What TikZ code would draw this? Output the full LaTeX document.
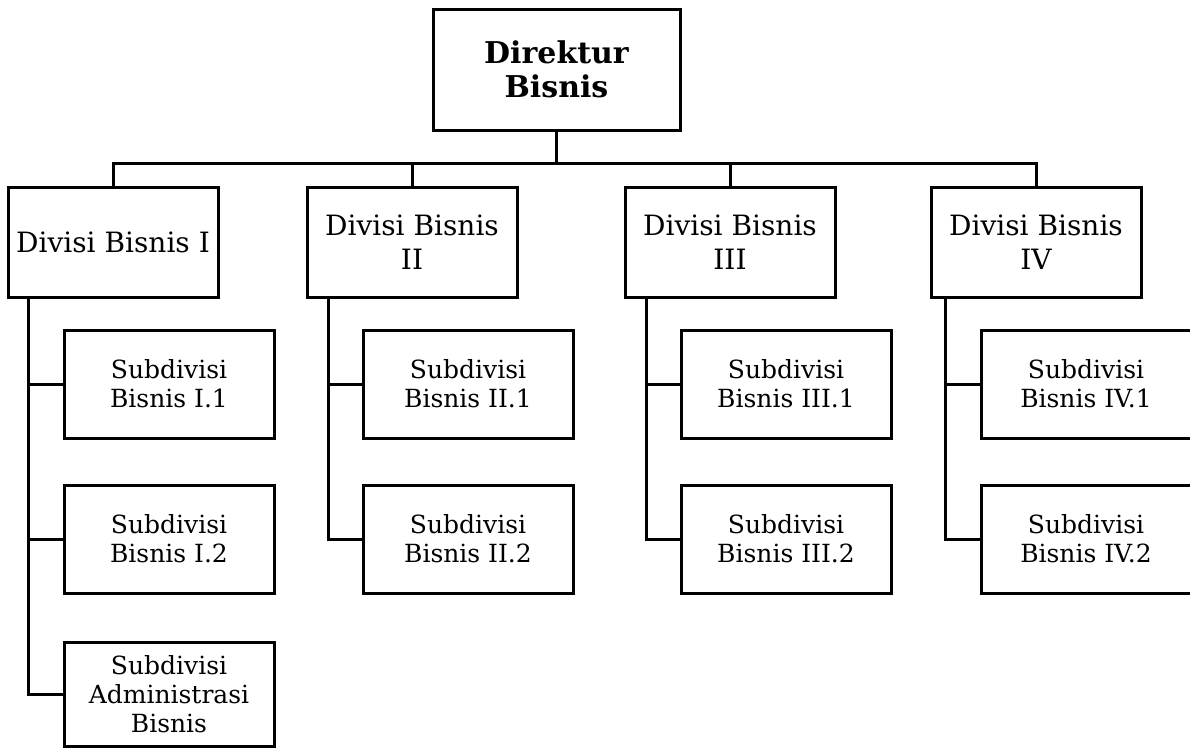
\documentclass[tikz,border=0pt]{standalone}
\usepackage{fontspec}
\setmainfont{DejaVu Serif}
\usetikzlibrary{calc}
\tikzset{
  box/.style={draw, line width=3pt, rectangle, align=center, inner sep=2pt},
  topbox/.style={box, minimum width=247pt, minimum height=121pt, font=\fontsize{30}{34}\selectfont\bfseries},
  divbox/.style={box, minimum width=210pt, minimum height=110pt, font=\fontsize{28}{34}\selectfont},
  subbox/.style={box, minimum width=210pt, minimum height=108pt, font=\fontsize{25}{29}\selectfont},
  link/.style={line width=3pt}
}
\begin{document}
\begin{tikzpicture}[x=1pt,y=-1pt]
\useasboundingbox (0,0) rectangle (1190,750);
% top level
\node[topbox] (dir) at (556.5,69.5) {Direktur\\Bisnis};
% divisions
\node[divbox] (d1) at (113,242) {Divisi Bisnis I};
\node[divbox] (d2) at (412,242) {Divisi Bisnis\\II};
\node[divbox] (d3) at (730,242) {Divisi Bisnis\\III};
\node[divbox] (d4) at (1036,242) {Divisi Bisnis\\IV};
% subdivisions
\node[subbox] (s11) at (169,384) {Subdivisi\\Bisnis I.1};
\node[subbox] (s12) at (169,539) {Subdivisi\\Bisnis I.2};
\node[subbox, minimum height=104pt] (s13) at (169,694) {Subdivisi\\Administrasi\\Bisnis};
\node[subbox] (s21) at (468,384) {Subdivisi\\Bisnis II.1};
\node[subbox] (s22) at (468,539) {Subdivisi\\Bisnis II.2};
\node[subbox] (s31) at (786,384) {Subdivisi\\Bisnis III.1};
\node[subbox] (s32) at (786,539) {Subdivisi\\Bisnis III.2};
\node[subbox] (s41) at (1086,384) {Subdivisi\\Bisnis IV.1};
\node[subbox] (s42) at (1086,539) {Subdivisi\\Bisnis IV.2};
% bus from director to divisions
\coordinate (bus) at (0,163);
\draw[link] (dir.south) -- (dir.south |- bus);
\draw[link] (d1.north) -- (d1.north |- bus) -- (d4.north |- bus) -- (d4.north);
\draw[link] (d2.north) -- (d2.north |- bus);
\draw[link] (d3.north) -- (d3.north |- bus);
% spines from divisions to subdivisions
\coordinate (p1) at ($(d1.south west)+(22,0)$);
\coordinate (p2) at ($(d2.south west)+(23,0)$);
\coordinate (p3) at ($(d3.south west)+(23,0)$);
\coordinate (p4) at ($(d4.south west)+(16,0)$);
\draw[link] (p1) |- (s13.west);
\draw[link] (p1 |- s11.west) -- (s11.west);
\draw[link] (p1 |- s12.west) -- (s12.west);
\draw[link] (p2) |- (s22.west);
\draw[link] (p2 |- s21.west) -- (s21.west);
\draw[link] (p3) |- (s32.west);
\draw[link] (p3 |- s31.west) -- (s31.west);
\draw[link] (p4) |- (s42.west);
\draw[link] (p4 |- s41.west) -- (s41.west);
\end{tikzpicture}
\end{document}
